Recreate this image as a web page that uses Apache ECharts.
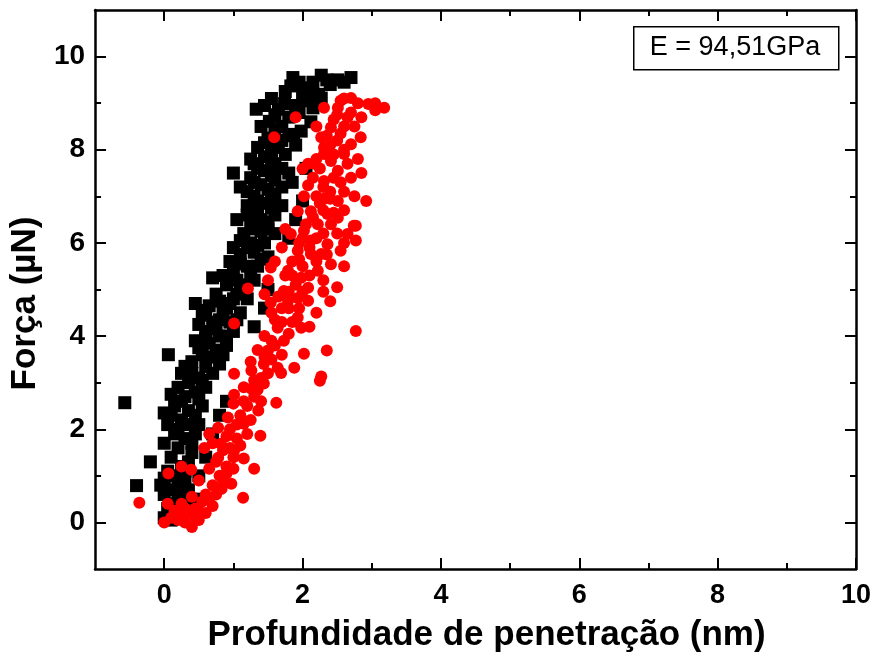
<!DOCTYPE html>
<html>
<head>
<meta charset="utf-8">
<script src="https://cdn.jsdelivr.net/npm/echarts@6/dist/echarts.min.js"></script>
<style>html,body{margin:0;padding:0;background:#fff}#c{width:874px;height:660px}</style>
</head>
<body>
<div id="c"></div>
<script>
const xMajorTicks = [0, 2, 4, 6, 8, 10];
const xMinorTicks = [1, 3, 5, 7, 9];
const yMajorTicks = [0, 2, 4, 6, 8, 10];
const yMinorTicks = [1, 3, 5, 7, 9];
const xTitle = 'Profundidade de penetração (nm)';
const yTitle = 'Força (µN)';
const annotation = 'E = 94,51GPa';

const blackPoints = [
[0.0,0.1],[0.1,0.05],[0.2,0.15],[0.05,0.3],[0.15,0.4],[0.25,0.3],[0.3,0.5],[0.0,0.6],[0.1,0.7],[0.2,0.8],
[-0.05,0.8],[0.3,0.9],[0.15,1.0],[0.35,0.7],[-0.4,0.79],[0.05,1.1],[0.25,1.2],[-0.2,1.3],[0.1,1.4],[0.35,1.3],
[0.2,1.6],[0.4,1.5],[0.0,1.7],[0.3,1.8],[0.15,1.9],[0.45,1.9],[0.05,2.1],[0.25,2.2],[0.5,2.1],[0.0,2.35],
[0.35,2.4],[0.15,2.5],[0.55,2.5],[-0.57,2.57],[0.3,2.7],[0.45,2.8],[0.1,2.75],[0.6,2.9],[0.35,3.0],[0.5,3.1],
[0.7,3.2],[0.25,3.2],[0.6,3.35],[0.4,3.45],[0.8,3.4],[0.06,3.6],[0.55,3.6],[0.75,3.7],[0.65,3.85],[0.9,3.8],
[0.45,3.9],[0.8,4.0],[1.0,4.1],[0.6,4.1],[0.7,4.3],[0.95,4.3],[0.55,4.45],[0.85,4.5],[1.1,4.5],[0.45,4.7],
[0.65,4.65],[0.95,4.7],[0.75,4.9],[1.05,4.9],[1.2,4.8],[0.9,5.1],[1.15,5.1],[0.7,5.25],[1.3,5.2],[1.0,5.35],
[1.2,5.5],[0.95,5.6],[1.35,5.5],[1.1,5.75],[1.3,5.8],[1.5,5.7],[1.0,5.9],[1.25,6.0],[1.45,6.0],[1.15,6.2],
[1.4,6.25],[1.6,6.2],[1.25,6.4],[1.5,6.45],[1.05,6.5],[1.35,6.65],[1.6,6.6],[1.2,6.8],[1.45,6.85],[1.7,6.8],
[1.3,7.0],[1.55,7.05],[1.1,7.2],[1.4,7.25],[1.7,7.2],[1.25,7.4],[1.55,7.45],[1.0,7.5],[1.8,7.5],[1.35,7.6],
[1.6,7.7],[1.45,7.85],[1.25,7.8],[1.75,7.9],[1.55,8.0],[1.35,8.05],[1.9,8.1],[1.7,8.2],[1.5,8.25],[1.87,8.33],
[1.98,8.4],[1.52,8.61],[1.7,8.5],[2.12,8.6],[1.65,8.87],[1.33,8.87],[1.74,8.99],[2.02,9.05],[1.55,9.1],[2.27,9.11],
[2.23,9.19],[1.83,9.37],[2.07,9.33],[2.4,9.4],[1.86,9.55],[2.27,9.6],[2.51,9.5],[2.7,9.55],[2.0,9.2],[1.95,8.8],
[2.15,8.9],[1.9,6.5],[2.0,6.9],[1.85,7.3],[2.05,7.6],[1.8,6.1],[1.3,4.2],[1.45,4.6],[1.5,5.0],[0.9,2.6],
[0.8,2.3],[0.7,1.9],[0.6,1.4],[0.5,1.0],[0.45,0.5],
[0.2,0.55],[0.1,0.25],[0.3,1.1],[0.0,0.95],[0.4,1.7],[0.2,2.0],[0.35,2.1],[0.1,2.3],[0.45,2.3],[0.25,2.6],
[0.5,2.65],[0.2,2.9],[0.4,3.2],[0.55,3.05],[0.3,3.35],[0.7,3.55],[0.5,3.75],[0.85,3.6],[0.6,3.95],[0.75,4.15],
[0.9,4.0],[0.5,4.25],[0.8,4.35],[1.05,4.35],[0.6,4.55],[0.9,4.6],[1.0,4.8],[0.8,4.75],[1.1,5.0],[0.85,5.3],
[1.05,5.2],[1.25,5.35],[1.1,5.55],[1.4,5.65],[1.2,5.9],[1.35,5.95],[1.1,6.05],[1.3,6.3],[1.5,6.3],[1.4,6.5],
[1.2,6.6],[1.55,6.75],[1.35,6.9],[1.6,6.95],[1.2,7.1],[1.5,7.15],[1.3,7.3],[1.6,7.35],[1.45,7.55],[1.7,7.6],
[1.3,7.7],[1.55,7.8],[1.65,8.05],[1.45,8.15],[1.8,8.3],[1.6,8.4],[1.4,8.5],[1.8,8.7],[1.6,8.75],[1.9,8.95],
[2.1,9.15],[2.15,9.45],[1.95,9.45],[2.35,9.5],[2.6,9.45],[1.75,9.25],[1.45,8.95]
];

const redPoints = [
[0.0,0.0],[0.1,0.1],[0.2,0.05],[0.3,0.0],[0.4,-0.1],[0.5,0.05],[0.35,0.2],[0.15,0.25],[0.05,0.4],[0.25,0.4],
[0.45,0.3],[0.6,0.2],[0.55,0.45],[0.7,0.35],[0.4,0.55],[-0.36,0.42],[0.06,1.05],[0.25,1.2],[0.39,1.13],[1.14,0.53],
[1.3,1.15],[0.97,0.83],[0.83,0.72],
[1.01,2.74],[1.26,2.87],[1.44,2.98],[1.62,2.57],[1.36,2.4],[1.15,2.12],[0.92,2.25],[0.78,2.03],[0.65,1.9],[1.39,1.86],
[0.58,1.6],[0.82,1.69],[1.01,1.54],[1.15,1.37],[0.78,1.39],[2.25,3.04],
[1.01,4.27],[1.54,4.72],[1.79,4.76],[2.08,4.76],[1.64,4.18],[1.93,4.4],[1.98,4.18],[1.73,3.9],[1.5,3.69],[2.02,3.62],
[1.88,3.32],[1.64,3.32],[1.44,3.4],[1.26,3.26],[1.01,3.19],[1.69,3.21],[2.77,4.11],[2.35,3.69],[2.27,3.13],
[1.21,5.02],[1.54,5.47],[1.79,5.4],[1.73,4.97],[1.93,4.82],[2.08,5.04],[1.98,5.25],[2.22,5.4],[2.12,5.76],[1.93,5.83],
[1.83,6.19],[2.02,6.26],[2.22,6.4],[2.41,6.4],[2.36,5.97],[2.55,5.83],[2.41,5.54],[2.65,6.19],[2.77,6.37],[2.77,6.05],
[2.27,5.76],[2.12,6.05],
[2.0,7.59],[2.17,7.7],[2.41,7.76],[2.6,7.91],[2.8,7.8],[2.7,8.12],[2.31,8.05],[2.51,7.55],[2.31,7.33],[2.08,7.24],
[2.02,7.0],[2.31,6.95],[2.51,6.9],[2.12,6.68],[2.36,6.62],[2.51,6.54],[2.74,6.37],[2.92,6.9],[1.93,6.68],
[2.7,9.11],[2.95,8.98],[3.18,8.9],[2.31,8.9],[2.51,8.9],[2.41,8.48],[2.65,8.7],[2.84,8.27],[2.27,8.27],[2.08,7.7],
[2.6,8.0],[2.31,7.91],[1.9,8.7],[1.59,8.27],[3.05,8.85],[2.55,9.05],[2.8,9.0],
[0.6,0.6],[0.7,0.8],[0.5,0.9],[0.8,1.0],[0.65,1.15],[0.9,1.2],[0.75,1.3],[1.0,1.4],[0.85,1.55],[0.7,1.7],
[1.05,1.8],[0.95,2.0],[1.1,2.3],[1.2,2.5],[1.0,2.55],[1.3,2.7],[1.15,2.9],[1.4,3.1],[1.25,3.45],[1.55,3.5],
[1.35,3.7],[1.6,3.8],[1.45,4.0],[1.7,4.3],[1.55,4.5],[1.8,4.6],[1.65,4.85],[1.9,5.1],[1.75,5.3],[2.0,5.5],
[1.85,5.6],[2.1,5.9],[1.95,6.0],[2.2,6.1],[2.05,6.4],[2.3,6.7],[2.2,7.0],[2.4,7.1],[2.15,7.4],[2.45,7.4],
[2.25,7.6],[2.5,8.2],[2.4,8.1],[2.6,8.5],[2.7,8.8],[2.45,8.65],
[0.2,0.15],[0.45,0.1],[0.3,0.3],[0.5,0.25],[0.65,0.5],[0.75,0.6],[0.85,0.9],[0.9,1.05],[1.0,1.15],[0.95,1.6],
[1.1,1.65],[1.2,1.9],[0.9,1.85],[1.05,2.1],[1.25,2.2],[1.4,2.6],[1.15,2.6],[1.35,2.85],[1.5,3.2],[1.3,3.05],
[1.45,3.55],[1.7,3.6],[1.55,3.9],[1.8,4.05],[1.6,4.35],[1.85,4.3],[1.7,4.6],[1.95,4.6],[1.8,4.95],[2.0,4.95],
[1.85,5.3],[2.1,5.3],[1.95,5.65],[2.2,5.6],[2.35,5.75],[2.0,6.1],[2.3,6.2],[2.5,6.2],[2.15,6.55],[2.45,6.65],
[2.6,6.7],[2.25,6.85],[2.4,6.95],[2.6,7.1],[2.3,7.2],[2.55,7.3],[2.2,7.8],[2.45,7.9],[2.65,7.7],[2.35,8.3],
[2.55,8.35],[2.75,8.5],[2.5,8.75],[2.85,8.7],[3.05,9.0],[2.6,9.1],[2.2,8.5],
[1.5,5.2],[1.6,5.6],[1.45,4.9],[1.7,5.9],[1.75,6.3],[2.6,5.5],[2.5,5.05],[2.3,5.2],[2.4,4.75],[2.2,4.5],
[2.1,4.2],[2.3,4.95],[2.6,6.0],[2.75,7.0],[2.7,7.4],[2.85,7.5]
];

const FONT = '"Liberation Sans", Arial, sans-serif';
const lineW = 2.5;

function xAx(pos, ticks, len, showLine, labels) {
  return {
    type: 'value', position: pos, min: -1, max: 10,
    axisLine: { show: showLine, onZero: false, lineStyle: { color: '#000', width: lineW } },
    axisTick: { show: true, inside: true, length: len, customValues: ticks, lineStyle: { color: '#000', width: 2 } },
    axisLabel: labels ? { show: true, customValues: xMajorTicks, fontSize: 27, fontWeight: 'bold', color: '#000', fontFamily: FONT, margin: 13 } : { show: false },
    splitLine: { show: false },
    name: labels ? xTitle : '',
    nameLocation: 'middle', nameGap: 49,
    nameTextStyle: { fontSize: 35, fontWeight: 'bold', color: '#000', fontFamily: FONT, padding: [0, 0, 0, 22] }
  };
}
function yAx(pos, ticks, len, showLine, labels) {
  return {
    type: 'value', position: pos, min: -1, max: 11,
    axisLine: { show: showLine, onZero: false, lineStyle: { color: '#000', width: lineW } },
    axisTick: { show: true, inside: true, length: len, customValues: ticks, lineStyle: { color: '#000', width: 2 } },
    axisLabel: labels ? { show: true, customValues: yMajorTicks, fontSize: 28, fontWeight: 'bold', color: '#000', fontFamily: FONT, margin: 10 } : { show: false },
    splitLine: { show: false },
    name: labels ? yTitle : '',
    nameLocation: 'middle', nameGap: 52,
    nameTextStyle: { fontSize: 35, fontWeight: 'bold', color: '#000', fontFamily: FONT, padding: [0, 28, 0, 0] }
  };
}

const chart = echarts.init(document.getElementById('c'), null, { renderer: 'canvas' });
chart.setOption({
  backgroundColor: '#fff',
  animation: false,
  grid: { left: 94, right: 18, top: 10, bottom: 91 },
  xAxis: [
    xAx('bottom', xMajorTicks, 11, true, true),
    xAx('bottom', xMinorTicks, 6, false, false),
    xAx('top', xMajorTicks, 11, true, false),
    xAx('top', xMinorTicks, 6, false, false)
  ],
  yAxis: [
    yAx('left', yMajorTicks, 11, true, true),
    yAx('left', yMinorTicks, 6, false, false),
    yAx('right', yMajorTicks, 11, true, false),
    yAx('right', yMinorTicks, 6, false, false)
  ],
  series: [
    { type: 'scatter', xAxisIndex: 0, yAxisIndex: 0, data: blackPoints, symbol: 'rect', symbolSize: 13, itemStyle: { color: '#000', opacity: 1 } },
    { type: 'scatter', xAxisIndex: 0, yAxisIndex: 0, data: redPoints, symbol: 'circle', symbolSize: 12, itemStyle: { color: '#ff0000', opacity: 1 } }
  ],
  graphic: [
    { type: 'rect', left: 633, top: 26, shape: { width: 205, height: 43 }, style: { fill: '#fff', stroke: '#000', lineWidth: 1.5 }, z: 100 },
    { type: 'text', x: 735, y: 48, style: { text: annotation, fontSize: 27, fontFamily: FONT, fill: '#000', align: 'center', verticalAlign: 'middle' }, z: 101 }
  ]
});
</script>
</body>
</html>
